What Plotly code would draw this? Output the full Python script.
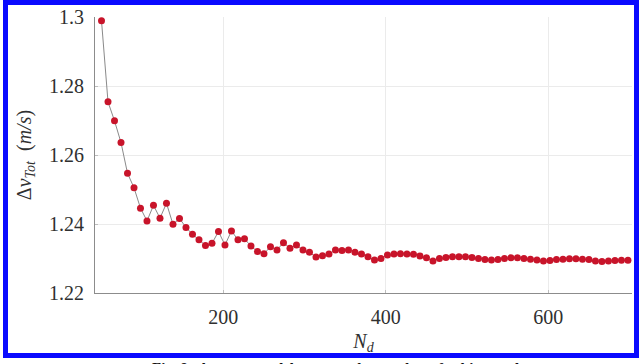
import plotly.graph_objects as go

# Data
n_d = [50 + 8 * k for k in range(82)]
dv_tot = [
    1.2989, 1.2754, 1.2699, 1.2636, 1.2547, 1.2505, 1.2446, 1.2409, 1.2454, 1.2417,
    1.2460, 1.2399, 1.2416, 1.2390, 1.2370, 1.2354, 1.2338, 1.2344, 1.2378, 1.2339,
    1.2380, 1.2354, 1.2357, 1.2336, 1.2320, 1.2314, 1.2334, 1.2325, 1.2346, 1.2330,
    1.2339, 1.2325, 1.2318, 1.2304, 1.2308, 1.2313, 1.2325, 1.2323, 1.2325, 1.2318,
    1.2313, 1.2305, 1.2296, 1.2300, 1.2310, 1.2313, 1.2314, 1.2313, 1.2312, 1.2307,
    1.2302, 1.2293, 1.2300, 1.2303, 1.2305, 1.2305, 1.2305, 1.2303, 1.2300, 1.2297,
    1.2296, 1.2297, 1.2300, 1.2302, 1.2302, 1.2300, 1.2298, 1.2296, 1.2293, 1.2294,
    1.2297, 1.2298, 1.2299, 1.2299, 1.2298, 1.2297, 1.2293, 1.2291, 1.2293, 1.2294,
    1.2295, 1.2295,
]
x_ticks = [200, 400, 600]
y_ticks = [1.22, 1.24, 1.26, 1.28, 1.30]
y_tick_text = ["1.22", "1.24", "1.26", "1.28", "1.3"]

W, H = 639, 364
ML, MR, MT, MB = 95, 7, 17, 71
PW, PH = W - ML - MR, H - MT - MB


def px(x):
    return (x - ML) / PW


def py(y):
    return (H - MB - y) / PH


fig = go.Figure()
fig.add_trace(go.Scatter(
    x=n_d, y=dv_tot, mode="lines+markers",
    line=dict(color="#8a8a8a", width=1),
    marker=dict(color="#c8142a", size=7, line=dict(width=0)),
    showlegend=False,
))

font_serif = "Liberation Serif, Times New Roman, serif"
txt_col = "#303030"

fig.update_layout(
    width=W, height=H,
    margin=dict(l=ML, r=MR, t=MT, b=MB),
    paper_bgcolor="white", plot_bgcolor="white",
    font=dict(family=font_serif, size=20, color=txt_col),
    xaxis=dict(
        range=[42, 703], tickvals=x_ticks,
        showgrid=True, gridcolor="#ebebeb", gridwidth=1,
        showline=True, linecolor="#8c8c8c", linewidth=1,
        ticks="inside", ticklen=3, tickcolor="#bdbdbd",
        ticklabelstandoff=6,
        zeroline=False,
        title=dict(text="<i>N<sub>d</sub></i>", standoff=6,
                   font=dict(family=font_serif, size=20, color=txt_col)),
        tickfont=dict(family=font_serif, size=20, color=txt_col),
    ),
    yaxis=dict(
        range=[1.22, 1.30], tickvals=y_ticks, ticktext=y_tick_text,
        showgrid=True, gridcolor="#ebebeb", gridwidth=1,
        showline=True, linecolor="#8c8c8c", linewidth=1,
        ticks="inside", ticklen=3, tickcolor="#bdbdbd",
        ticklabelstandoff=6,
        zeroline=False,
        title=dict(text="Δ<i>v</i><sub><i>Tot</i></sub>  (<i>m/s</i>)", standoff=12,
                   font=dict(family=font_serif, size=20, color=txt_col)),
        tickfont=dict(family=font_serif, size=20, color=txt_col),
    ),
    shapes=[dict(
        type="rect", xref="paper", yref="paper",
        x0=px(5.5), x1=px(636.5), y0=py(2.5), y1=py(355.5),
        line=dict(color="#0a0aff", width=5), fillcolor="rgba(0,0,0,0)",
        layer="above",
    )],
    annotations=[dict(
        xref="paper", yref="paper", x=px(338), y=py(358),
        xanchor="center", yanchor="top", showarrow=False,
        text="<b>Fig. 8   Average total Δv versus the number of subintervals</b>",
        font=dict(family=font_serif, size=15, color="#111111"),
    )],
)

fig.write_html("out.html")
